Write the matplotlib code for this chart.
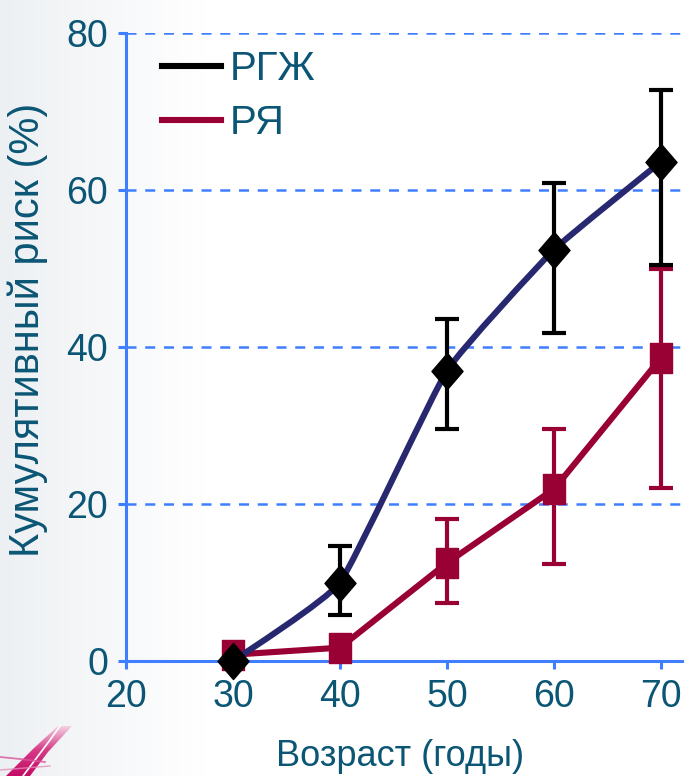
import numpy as np
import matplotlib.pyplot as plt
from matplotlib.colors import LinearSegmentedColormap
from matplotlib.path import Path
from matplotlib.patches import PathPatch, Polygon

ages = [30, 40, 50, 60, 70]
rgzh_risk = [0.0, 10.0, 37.0, 52.4, 63.6]
rgzh_low = [0.0, 5.8, 29.5, 41.8, 50.4]
rgzh_high = [0.0, 14.6, 43.6, 60.9, 72.8]
rya_risk = [0.8, 1.7, 12.5, 21.9, 38.6]
rya_low = [0.8, 1.7, 7.4, 12.3, 22.1]
rya_high = [0.8, 1.7, 18.1, 29.6, 50.0]
x_ticks = [20, 30, 40, 50, 60, 70]
y_ticks = [0, 20, 40, 60, 80]

text_col = '#0b5675'
axis_col = '#3f7fff'
navy = '#27286f'
red = '#990033'
font = ['Liberation Sans', 'DejaVu Sans']
W, H = 684, 776

fig = plt.figure(figsize=(6.84, 7.76), dpi=100)

# light gradient background on the left
bg = fig.add_axes([0, 0, 1, 1], zorder=-10)
bg.set_xlim(0, W)
bg.set_ylim(H, 0)
grad = np.clip(np.linspace(0, 1, 300) / 0.3, 0, 1)[None, :]
bg.imshow(grad, cmap=LinearSegmentedColormap.from_list('g', ['#edf0f3', '#ffffff']),
          aspect='auto', extent=[0, W, H, 0])

# pink ribbon logo in the corner (fades towards its top)
band = Polygon([(6, 776), (30, 776), (48, 752), (72, 726), (58, 726), (34, 748)],
               closed=True, fc='none', ec='none')
bg.add_patch(band)
fade = np.linspace(0, 1, 100)[:, None]
logo = bg.imshow(fade, cmap=LinearSegmentedColormap.from_list(
    'p', ['#f6dcea', '#d63a86', '#c40c66']), extent=[0, 80, 776, 724], aspect='auto')
logo.set_clip_path(band)
bg.plot([60, 50, 35, 23], [726, 740, 760, 776], color='white', lw=1.2)
bg.plot([0, 20, 45], [757, 759, 762], color='#d9559a', lw=1.3, alpha=0.8)
bg.plot([0, 25, 50], [770, 768, 766], color='#e58ab8', lw=1.0, alpha=0.8)
bg.set_xlim(0, W)
bg.set_ylim(H, 0)
bg.set_axis_off()

ax = fig.add_axes([126 / W, 115 / H, 558 / W, 628 / H])
ax.set_facecolor('none')
ax.set_xlim(20, 72.15)
ax.set_ylim(0, 80)

for y in y_ticks[1:]:
    ax.axhline(y, color=axis_col, lw=1.8, ls=(0, (4, 3.5)), zorder=1)

# square and diamond markers (slightly taller than wide, as in the slide)
sq = Path([(-0.37, -0.5), (0.37, -0.5), (0.37, 0.5), (-0.37, 0.5), (-0.37, -0.5)],
          [1, 2, 2, 2, 79])
dia = Path([(0, 0.5), (0.43, 0), (0, -0.5), (-0.43, 0), (0, 0.5)], [1, 2, 2, 2, 79])

ya = np.array(rya_risk)
ax.errorbar(ages[2:], ya[2:],
            yerr=[ya[2:] - np.array(rya_low[2:]), np.array(rya_high[2:]) - ya[2:]],
            fmt='none', ecolor=red, elinewidth=3, capsize=8.5, capthick=3,
            zorder=3, clip_on=False)
ax.plot(ages, rya_risk, color=red, lw=4.4, marker=sq, ms=22, zorder=4, clip_on=False)

# gently smoothed navy curve through the РГЖ points
xs = np.array(ages, float)
ys = np.array(rgzh_risk)
verts = [(xs[0], ys[0])]
codes = [Path.MOVETO]
n = len(xs)
for i in range(n - 1):
    p0 = np.array([xs[max(i - 1, 0)], ys[max(i - 1, 0)]])
    p1 = np.array([xs[i], ys[i]])
    p2 = np.array([xs[i + 1], ys[i + 1]])
    p3 = np.array([xs[min(i + 2, n - 1)], ys[min(i + 2, n - 1)]])
    c1 = p1 + (p2 - p0) / 16
    c2 = p2 - (p3 - p1) / 16
    verts += [tuple(c1), tuple(c2), tuple(p2)]
    codes += [Path.CURVE4] * 3
ax.add_patch(PathPatch(Path(verts, codes), fc='none', ec=navy, lw=4.4, zorder=5))

ga = np.array(rgzh_risk)
ax.errorbar(ages[1:], ga[1:],
            yerr=[ga[1:] - np.array(rgzh_low[1:]), np.array(rgzh_high[1:]) - ga[1:]],
            fmt='none', ecolor='black', elinewidth=3, capsize=8.5, capthick=3,
            zorder=6, clip_on=False)
ax.plot(ages, rgzh_risk, ls='none', color='black', marker=dia, ms=26, zorder=7,
        clip_on=False)

# legend
h1, = ax.plot([], [], color='black', lw=4.4, label='РГЖ')
h2, = ax.plot([], [], color=red, lw=4.4, label='РЯ')
ax.legend(handles=[h1, h2], loc='upper left', bbox_to_anchor=(0.0, 1.03),
          frameon=False, handlelength=1.45, handletextpad=0.22, labelspacing=0.38,
          prop={'family': font, 'size': 29}, labelcolor=text_col)

for s in ['top', 'right']:
    ax.spines[s].set_visible(False)
for s in ['left', 'bottom']:
    ax.spines[s].set_color(axis_col)
    ax.spines[s].set_linewidth(2.2)
ax.set_xticks(x_ticks)
ax.set_yticks(y_ticks)
ax.tick_params(colors=axis_col, width=2.2, length=6, labelcolor=text_col,
               labelsize=27)
ax.tick_params(axis='x', pad=7)
ax.tick_params(axis='y', pad=7)
for lab in ax.get_xticklabels() + ax.get_yticklabels():
    lab.set_family(font)

ax.set_xlabel('Возраст (годы)', family=font, fontsize=26, color=text_col)
ax.xaxis.set_label_coords(0.491, -0.125)
ax.set_ylabel('Кумулятивный риск (%)', family=font, fontsize=30, color=text_col)
ax.yaxis.set_label_coords(-0.14, 0.527)

fig.savefig('out.png', dpi=100)
